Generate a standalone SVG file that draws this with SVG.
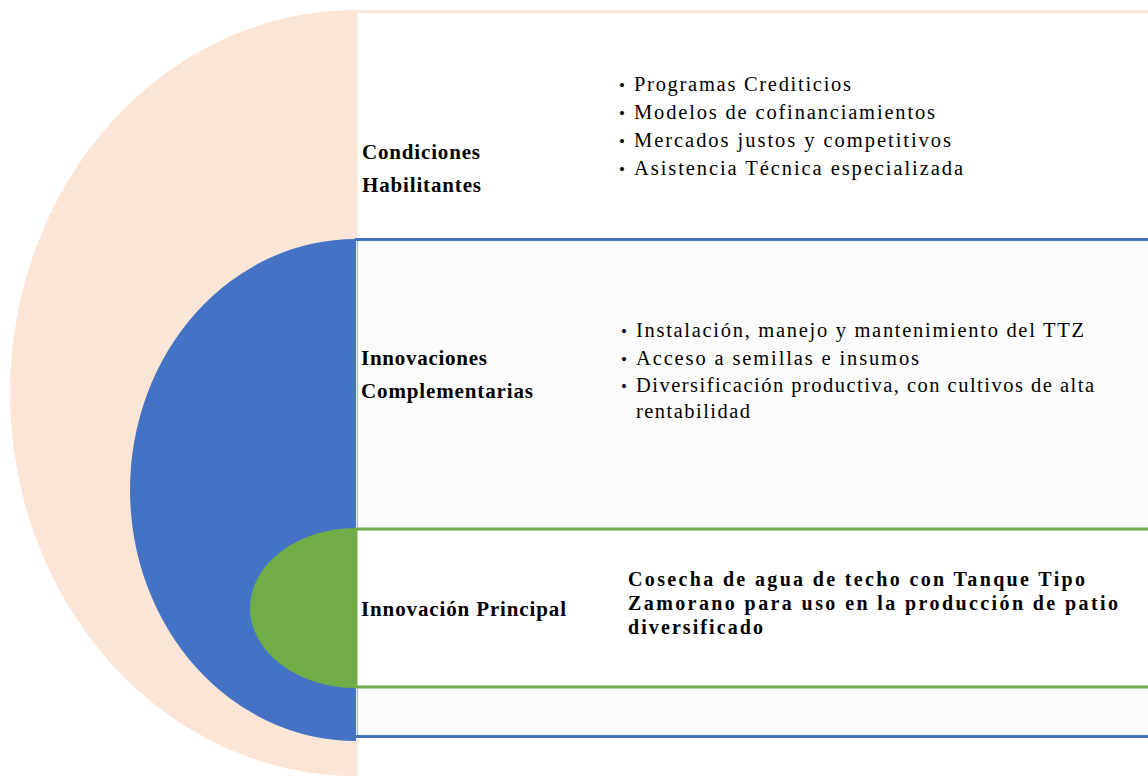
<svg xmlns="http://www.w3.org/2000/svg" width="1148" height="776" viewBox="0 0 1148 776">
<style>
.lbl{font-family:"Liberation Serif","Times New Roman",serif;font-weight:bold;font-size:21px;fill:#000}
.it{font-family:"Liberation Serif","Times New Roman",serif;font-size:20.5px;fill:#000}
.bd{font-family:"Liberation Serif","Times New Roman",serif;font-weight:bold;font-size:20px;fill:#000}
.bul{font-family:"Liberation Serif","Times New Roman",serif;font-size:17px;fill:#000}
</style>
<rect width="1148" height="776" fill="#ffffff"/>
<g id="outer">
<path d="M356,10 A346,383 0 0 0 356,776 Z" fill="#FBE5D6"/>
<rect x="356" y="11.5" width="800" height="780" fill="#ffffff" stroke="#FBE5D6" stroke-width="3"/>
<text class="lbl" x="362" y="159" textLength="118" lengthAdjust="spacing">Condiciones</text>
<text class="lbl" x="362" y="192" textLength="119" lengthAdjust="spacing">Habilitantes</text>
<text class="bul" x="619" y="91">•</text>
<text class="it" x="634" y="91" textLength="217" lengthAdjust="spacing">Programas  Crediticios</text>
<text class="bul" x="619" y="119">•</text>
<text class="it" x="634" y="119" textLength="301" lengthAdjust="spacing">Modelos de  cofinanciamientos</text>
<text class="bul" x="619" y="147">•</text>
<text class="it" x="634" y="147" textLength="317" lengthAdjust="spacing">Mercados  justos y  competitivos</text>
<text class="bul" x="619" y="175">•</text>
<text class="it" x="634" y="175" textLength="329" lengthAdjust="spacing">Asistencia  Técnica  especializada</text>
</g>
<g id="middle">
<path d="M356,239 A226,251 0 0 0 356,741 Z" fill="#4472C4"/>
<rect x="356" y="239.5" width="800" height="497" fill="#FCFCFC" stroke="#4472C4" stroke-width="3"/>
<line x1="356.5" y1="241" x2="356.5" y2="735" stroke="#E4E8F0" stroke-width="1"/>
<text class="lbl" x="361" y="365" textLength="126" lengthAdjust="spacing">Innovaciones</text>
<text class="lbl" x="361" y="398" textLength="172" lengthAdjust="spacing">Complementarias</text>
<text class="bul" x="621" y="337">•</text>
<text class="it" x="636" y="337" textLength="448" lengthAdjust="spacing">Instalación,  manejo y mantenimiento del TTZ</text>
<text class="bul" x="621" y="365">•</text>
<text class="it" x="636" y="365" textLength="283" lengthAdjust="spacing">Acceso a semillas e insumos</text>
<text class="bul" x="621" y="392">•</text>
<text class="it" x="636" y="392" textLength="458" lengthAdjust="spacing">Diversificación productiva, con  cultivos de alta</text>
<text class="it" x="636" y="418" textLength="114" lengthAdjust="spacing">rentabilidad</text>
</g>
<g id="inner">
<path d="M356,528 A106,80 0 0 0 356,688 Z" fill="#70AD47"/>
<rect x="356" y="529" width="800" height="158" fill="#ffffff" stroke="#70AD47" stroke-width="3"/>
<text class="lbl" x="361" y="616" textLength="205" lengthAdjust="spacing">Innovación  Principal</text>
<text class="bd" x="628" y="586" textLength="457" lengthAdjust="spacing">Cosecha de agua de techo con Tanque Tipo</text>
<text class="bd" x="628" y="610" textLength="490" lengthAdjust="spacing">Zamorano para uso en la producción de patio</text>
<text class="bd" x="628" y="634" textLength="135" lengthAdjust="spacing">diversificado</text>
</g>
<g id="connectors"/>
</svg>
